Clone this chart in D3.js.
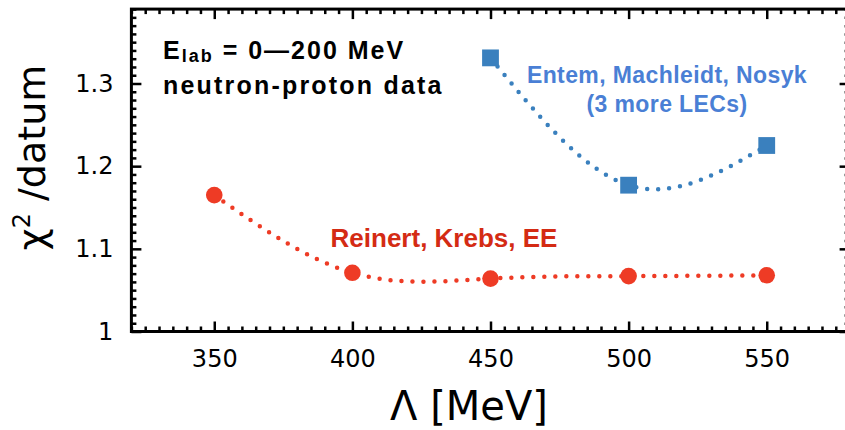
<!DOCTYPE html>
<html lang='en'>
	<head>
		<meta charset='utf-8'>
		<title>chi2 per datum vs cutoff</title>
		<script type='text/javascript' src='https://cdn.jsdelivr.net/npm/d3@7/dist/d3.min.js'></script>
		<style>
			body { margin: 0; background: #fff; }
			.tick text { font-family: 'DejaVu Sans', sans-serif; font-size: 24px; fill: #000; }
			.tick line { stroke: #000; stroke-width: 2.5px; }
		</style>
	</head>
	<body>
	</body>
	<script type='text/javascript'>
	// chi2/datum values
	var cutoffs = [350, 400, 450, 500, 550];
	var rkeChi2 = [1.165, 1.071, 1.064, 1.067, 1.068];
	var emnCutoffs = [450, 500, 550];
	var emnChi2 = [1.331, 1.177, 1.225];
	var xTicks = [350, 400, 450, 500, 550];
	var yTicks = [1, 1.1, 1.2, 1.3];

	var width = 845, height = 430;
	var padLeft = 131.4, padRight = 849.6, padTop = 9.1, padBottom = 331.5;

	var svg = d3.select('body').append('svg').attr('width', width).attr('height', height)

	var x = d3.scaleLinear().domain([320, 580]).range([padLeft, padRight]);
	var y = d3.scaleLinear().domain([1, 1.39]).range([padBottom, padTop]);

	var xMinor = d3.range(320, 581, 5).filter(v => xTicks.indexOf(v) < 0);
	var yMinor = d3.range(100, 140, 1).map(v => v/100).filter(v => yTicks.indexOf(v) < 0);

	function strip(g) { g.select('.domain').remove(); }

	// bottom
	svg.append('g').attr('transform', 'translate(0,'+padBottom+')')
		.call(d3.axisBottom(x).tickValues(xTicks).tickSizeInner(-10).tickSizeOuter(0).tickPadding(18))
		.call(strip)
	svg.append('g').attr('transform', 'translate(0,'+padBottom+')')
		.call(d3.axisBottom(x).tickValues(xMinor).tickSizeInner(-5).tickSizeOuter(0).tickFormat(''))
		.call(strip)
	// top
	svg.append('g').attr('transform', 'translate(0,'+padTop+')')
		.call(d3.axisTop(x).tickValues(xTicks).tickSizeInner(-10).tickSizeOuter(0).tickFormat(''))
		.call(strip)
	svg.append('g').attr('transform', 'translate(0,'+padTop+')')
		.call(d3.axisTop(x).tickValues(xMinor).tickSizeInner(-5).tickSizeOuter(0).tickFormat(''))
		.call(strip)
	// left
	svg.append('g').attr('transform', 'translate('+padLeft+',0)')
		.call(d3.axisLeft(y).tickValues(yTicks).tickSizeInner(-10).tickSizeOuter(0).tickPadding(18).tickFormat(d3.format('~')))
		.call(strip)
	svg.append('g').attr('transform', 'translate('+padLeft+',0)')
		.call(d3.axisLeft(y).tickValues(yMinor).tickSizeInner(-5).tickSizeOuter(0).tickFormat(''))
		.call(strip)
	// right
	svg.append('g').attr('transform', 'translate('+padRight+',0)')
		.call(d3.axisRight(y).tickValues(yTicks).tickSizeInner(-10).tickSizeOuter(0).tickFormat(''))
		.call(strip)
	svg.append('g').attr('transform', 'translate('+padRight+',0)')
		.call(d3.axisRight(y).tickValues(yMinor).tickSizeInner(-5).tickSizeOuter(0).tickFormat(''))
		.call(strip)

	svg.append('rect').attr('x', padLeft).attr('y', padTop).attr('width', padRight-padLeft).attr('height', padBottom-padTop)
		.attr('fill', 'none').attr('stroke', '#000').attr('stroke-width', 3)

	// dotted spline curves
	var line = d3.line().x(d => x(d[0])).y(d => y(d[1])).curve(d3.curveNatural)
	var rke = cutoffs.map((c, i) => [c, rkeChi2[i]])
	var emn = emnCutoffs.map((c, i) => [c, emnChi2[i]])

	svg.append('path').datum(rke).attr('d', line)
		.attr('fill', 'none').attr('stroke', '#ee3b25').attr('stroke-width', 4.5)
		.attr('stroke-linecap', 'round').attr('stroke-dasharray', '0 11')
	svg.append('path').datum(emn).attr('d', line)
		.attr('fill', 'none').attr('stroke', '#3a80be').attr('stroke-width', 4.5)
		.attr('stroke-linecap', 'round').attr('stroke-dasharray', '0 11')

	svg.selectAll('circle.rke').data(rke).enter().append('circle')
		.attr('cx', d => x(d[0])).attr('cy', d => y(d[1])).attr('r', 8.3)
		.attr('fill', '#ee3b25')
	svg.selectAll('rect.emn').data(emn).enter().append('rect')
		.attr('x', d => x(d[0])-8.4).attr('y', d => y(d[1])-8.4).attr('width', 16.8).attr('height', 16.8)
		.attr('fill', '#3a80be')

	// annotations
	var bold = "'Liberation Sans', Arial, sans-serif"
	var t1 = svg.append('text').attr('x', 163).attr('y', 59.3)
		.attr('font-family', bold).attr('font-weight', 'bold').attr('font-size', '25px').attr('letter-spacing', '2px')
	t1.append('tspan').text('E')
	t1.append('tspan').attr('font-size', '18px').attr('dy', 3).text('lab')
	t1.append('tspan').attr('dy', -3).text(' = 0\u2014200 MeV')
	svg.append('text').attr('x', 163).attr('y', 94)
		.attr('font-family', bold).attr('font-weight', 'bold').attr('font-size', '25px').attr('letter-spacing', '2.2px')
		.text('neutron-proton data')

	svg.append('text').attr('x', 667).attr('y', 83.3).attr('text-anchor', 'middle')
		.attr('font-family', bold).attr('font-weight', 'bold').attr('font-size', '23px').attr('letter-spacing', '0.4px')
		.attr('fill', '#4a7fd5').text('Entem, Machleidt, Nosyk')
	svg.append('text').attr('x', 667).attr('y', 112).attr('text-anchor', 'middle')
		.attr('font-family', bold).attr('font-weight', 'bold').attr('font-size', '23px').attr('letter-spacing', '0.4px')
		.attr('fill', '#4a7fd5').text('(3 more LECs)')

	svg.append('text').attr('x', 444).attr('y', 247).attr('text-anchor', 'middle')
		.attr('font-family', bold).attr('font-weight', 'bold').attr('font-size', '26px')
		.attr('fill', '#d42b14').text('Reinert, Krebs, EE')

	// axis titles
	svg.append('text').attr('x', 469).attr('y', 420).attr('text-anchor', 'middle')
		.attr('font-family', "'DejaVu Sans', sans-serif").attr('font-size', '40px')
		.text('\u039b [MeV]')
	var yt = svg.append('text').attr('transform', 'translate(45,157.5) rotate(-90)').attr('text-anchor', 'middle')
		.attr('font-family', "'DejaVu Sans', sans-serif").attr('font-size', '38px')
	yt.append('tspan').text('\u03c7')
	yt.append('tspan').attr('font-size', '24px').attr('dy', -15).text('2')
	yt.append('tspan').attr('dy', 15).text(' /datum')
	</script>
</html>
